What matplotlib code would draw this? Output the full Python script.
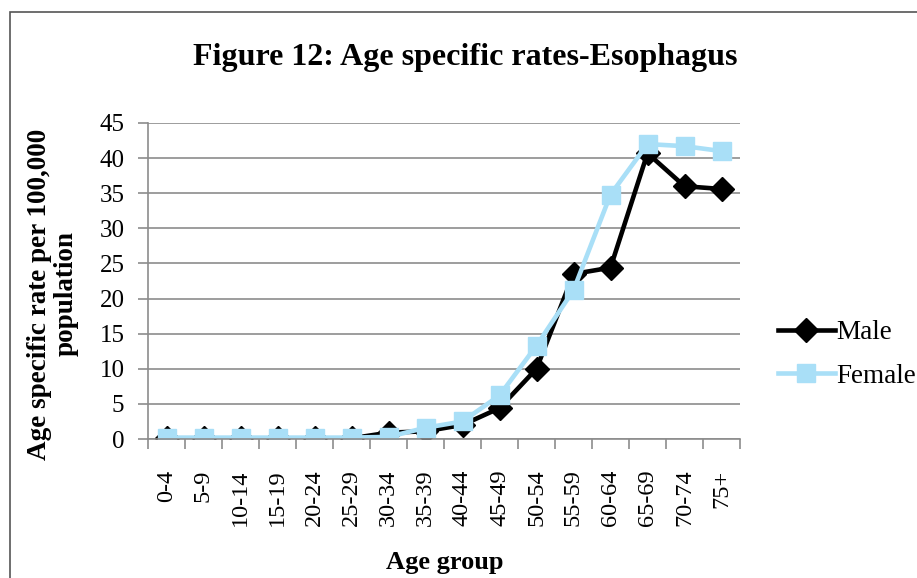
import matplotlib.pyplot as plt
import numpy as np
from matplotlib.patches import Rectangle

plt.rcParams['font.family'] = ['Liberation Serif', 'DejaVu Serif']

age_groups = ['0-4', '5-9', '10-14', '15-19', '20-24', '25-29', '30-34', '35-39',
              '40-44', '45-49', '50-54', '55-59', '60-64', '65-69', '70-74', '75+']
male = [0.1, 0.1, 0.1, 0.1, 0.1, 0.1, 0.9, 1.1, 2.0, 4.4, 10.0, 23.5, 24.4, 40.7, 36.0, 35.6]
female = [0.2, 0.2, 0.2, 0.2, 0.2, 0.2, 0.3, 1.6, 2.5, 6.2, 13.3, 21.2, 34.8, 42.0, 41.7, 41.0]

fig = plt.figure(figsize=(9.17, 5.78), dpi=100)
ax = fig.add_axes([148/917, 1-439/578, (740-148)/917, (439-123)/578])

x = np.arange(len(age_groups))
ax.plot(x, male, color='black', lw=3.3, marker='D', ms=12, label='Male')
ax.plot(x, female, color='#a9dff7', lw=3.3, marker='s', ms=13, label='Female')

ax.set_xlim(-0.5, len(age_groups) - 0.5)
ax.set_ylim(0, 45)
ax.set_yticks(range(0, 46, 5))
ax.yaxis.grid(True, color='#8c8c8c', lw=1.2)
ax.set_axisbelow(True)

ax.set_xticks(x)
ax.set_xticklabels(age_groups, rotation=90, fontsize=17.5)
ax.tick_params(axis='x', length=0, pad=22)
ax.set_xticks(np.arange(-0.5, len(age_groups)), minor=True)
ax.tick_params(axis='x', which='minor', length=7, color='#8c8c8c', width=1.2)
ax.tick_params(axis='y', labelsize=18, length=7, color='#8c8c8c', width=1.2, pad=10)

for s in ['top', 'right']:
    ax.spines[s].set_visible(False)
for s in ['left', 'bottom']:
    ax.spines[s].set_color('#8c8c8c')
    ax.spines[s].set_linewidth(1.2)

ax.set_ylabel('Age specific rate per 100,000\npopulation', fontsize=19.5,
              fontweight='bold', linespacing=1.05)
ax.yaxis.set_label_coords(-0.118, 0.459)
fig.text(445/917, 1-562/578, 'Age group', fontsize=19, fontweight='bold',
         ha='center', va='center')
fig.text(465/917, 1-57/578, 'Figure 12: Age specific rates-Esophagus', fontsize=23,
         fontweight='bold', ha='center', va='center')

ax.legend(loc='upper left', bbox_to_anchor=(778/917, 1-320/578),
          bbox_transform=fig.transFigure, frameon=False,
          fontsize=19.5, handlelength=2.1, handletextpad=0.05, labelspacing=0.7,
          borderpad=0, borderaxespad=0)

fig.patches.append(Rectangle((10/917, -0.1), 1.2, (1-12/578) + 0.1,
                             transform=fig.transFigure, fill=False,
                             edgecolor='#555555', lw=1.2))

fig.savefig('out.png', dpi=100)
